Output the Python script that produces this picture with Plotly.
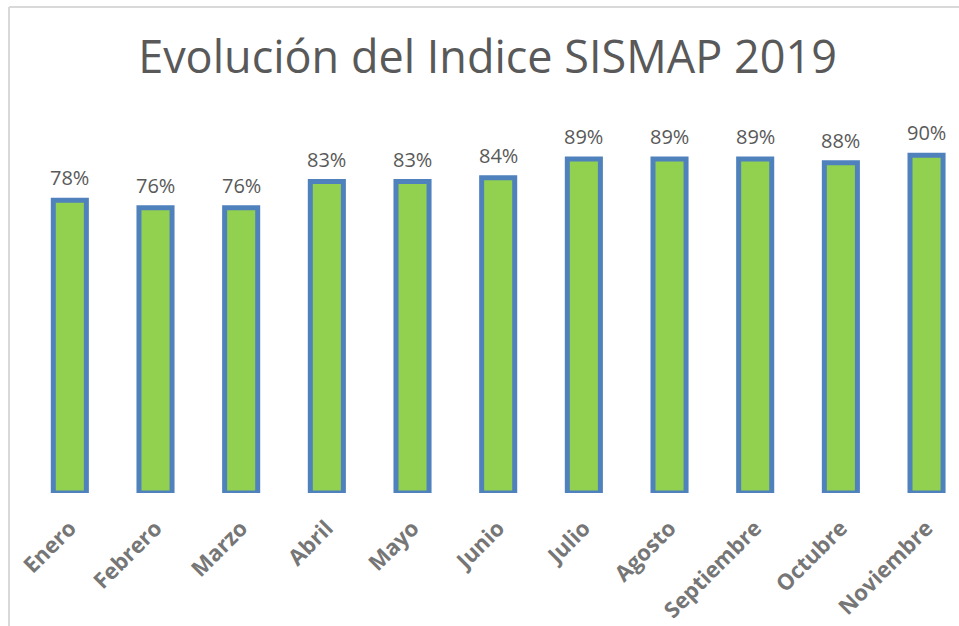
import plotly.graph_objects as go

months = ["Enero", "Febrero", "Marzo", "Abril", "Mayo", "Junio", "Julio",
          "Agosto", "Septiembre", "Octubre", "Noviembre"]
values = [78, 76, 76, 83, 83, 84, 89, 89, 89, 88, 90]
labels = [f"{v}%" for v in values]

W, H = 959, 626
ml, mr, mt, mb = 27, 0, 100, 133
plot_w = W - ml - mr
plot_h = H - mt - mb
spacing = 85.67
x_hi = -0.5 + plot_w / spacing
y_hi = plot_h / 3.752
xs = list(range(len(months)))

fig = go.Figure(go.Bar(
    x=xs, y=values,
    marker=dict(color="#92D050", line=dict(color="#4F81BD", width=5)),
    width=0.386, hoverinfo="x+y",
))

annotations = [
    dict(x=x, y=v, xref="x", yref="y", text=t, showarrow=False,
         yanchor="bottom", xanchor="center", yshift=7,
         font=dict(family="Open Sans", size=20, color="#595959"))
    for x, v, t in zip(xs, values, labels)
]

fig.update_layout(
    width=W, height=H,
    margin=dict(l=ml, r=mr, t=mt, b=mb),
    paper_bgcolor="white", plot_bgcolor="white",
    title=dict(text="Evolución del Indice SISMAP 2019", x=(487.5) / W, xanchor="center",
               y=1 - 57 / H, yanchor="middle",
               font=dict(family="Open Sans", size=45, color="#595959")),
    showlegend=False,
    annotations=annotations,
    xaxis=dict(range=[-0.5, x_hi], tickmode="array", tickvals=xs,
               ticktext=months, tickangle=-45, showgrid=False, zeroline=False,
               showline=False, ticks="", ticklabelstandoff=17,
               tickfont=dict(family="Open Sans", size=22, color="#767676", weight="bold")),
    yaxis=dict(range=[0, y_hi], visible=False, showgrid=False, zeroline=False),
    shapes=[
        dict(type="line", xref="paper", yref="paper",
             x0=(9 - ml) / plot_w, x1=1.01, y0=(H - mb - 7) / plot_h, y1=(H - mb - 7) / plot_h,
             line=dict(color="#D9D9D9", width=2)),
        dict(type="line", xref="paper", yref="paper",
             x0=(9 - ml) / plot_w, x1=(9 - ml) / plot_w, y0=(H - mb - 7) / plot_h,
             y1=-(H - (H - mb)) / plot_h,
             line=dict(color="#D9D9D9", width=2)),
    ],
)

fig.write_html("out.html", config={"displayModeBar": False},
               post_script="document.body.style.margin='0';")
